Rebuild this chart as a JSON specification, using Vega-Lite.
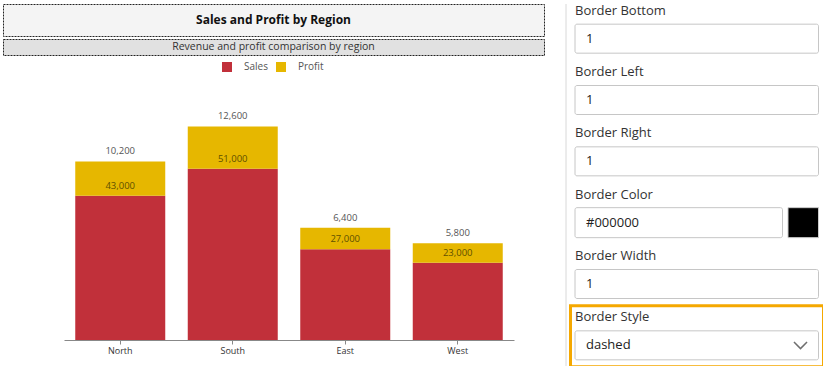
{
  "$schema": "https://vega.github.io/schema/vega-lite/v6.json",
  "padding": {"left": 2, "top": 3, "right": 0, "bottom": 0},
  "background": "white",
  "config": {"font": "Open Sans", "view": {"stroke": null}},
  "datasets": {
    "sales": [
      {"region": "North", "measure": "Sales", "value": 43000},
      {"region": "North", "measure": "Profit", "value": 10200},
      {"region": "South", "measure": "Sales", "value": 51000},
      {"region": "South", "measure": "Profit", "value": 12600},
      {"region": "East", "measure": "Sales", "value": 27000},
      {"region": "East", "measure": "Profit", "value": 6400},
      {"region": "West", "measure": "Sales", "value": 23000},
      {"region": "West", "measure": "Profit", "value": 5800}
    ],
    "form": [
      {"label": "Border Bottom", "value": "1", "kind": "input"},
      {"label": "Border Left", "value": "1", "kind": "input"},
      {"label": "Border Right", "value": "1", "kind": "input"},
      {"label": "Border Color", "value": "#000000", "kind": "color"},
      {"label": "Border Width", "value": "1", "kind": "input"},
      {"label": "Border Style", "value": "dashed", "kind": "select"}
    ]
  },
  "spacing": 12,
  "resolve": {"scale": {"color": "independent"}, "legend": {"color": "independent"}},
  "hconcat": [
    {
      "spacing": 6,
      "resolve": {"scale": {"color": "independent"}, "legend": {"color": "independent"}},
      "vconcat": [
        {
          "spacing": 1,
          "vconcat": [
            {
              "width": 541,
              "height": 32,
              "view": {"fill": "#f4f4f4", "stroke": "#222", "strokeDash": [2, 1], "strokeWidth": 1},
              "data": {"values": [{"t": "Sales and Profit by Region"}]},
              "mark": {"type": "text", "fontWeight": "bold", "fontSize": 12, "color": "#111"},
              "encoding": {"text": {"field": "t"}}
            },
            {
              "width": 541,
              "height": 16,
              "view": {"fill": "#e1e1e1", "stroke": "#222", "strokeDash": [2, 1], "strokeWidth": 1},
              "data": {"values": [{"t": "Revenue and profit comparison by region"}]},
              "mark": {"type": "text", "fontSize": 10.5, "color": "#333"},
              "encoding": {"text": {"field": "t"}}
            }
          ]
        },
        {
          "width": 541,
          "height": 235,
          "data": {"name": "sales"},
          "encoding": {
            "x": {
              "field": "region",
              "type": "nominal",
              "sort": ["North", "South", "East", "West"],
              "scale": {"range": [61, 511], "paddingInner": 0.2, "paddingOuter": 0.1},
              "axis": {"title": null, "labelAngle": 0, "domainColor": "#888", "tickColor": "#888", "tickSize": 4, "labelFontSize": 9, "labelColor": "#333", "labelPadding": 2, "grid": false}
            },
            "y": {"field": "value", "type": "quantitative", "stack": "zero", "scale": {"domain": [0, 70000]}, "axis": null},
            "order": {"field": "measure", "sort": "descending"}
          },
          "layer": [
            {
              "mark": {"type": "bar"},
              "encoding": {
                "color": {
                  "field": "measure",
                  "type": "nominal",
                  "scale": {"domain": ["Sales", "Profit"], "range": ["#c1303a", "#e6b700"]},
                  "legend": {"title": null, "orient": "none", "legendX": 219, "legendY": -43, "direction": "horizontal", "symbolType": "square", "symbolSize": 100, "symbolStrokeWidth": 0, "labelFontSize": 10, "labelColor": "#555", "columnPadding": 8, "labelOffset": 12}
                }
              }
            },
            {
              "mark": {"type": "text", "baseline": "middle", "dy": -10, "fontSize": 9.5},
              "encoding": {
                "detail": {"field": "measure"},
                "text": {"field": "value", "type": "quantitative", "format": ","},
                "color": {"condition": {"test": "datum.measure === 'Sales'", "value": "#5f5000"}, "value": "#555"}
              }
            }
          ]
        }
      ]
    },
    {
      "width": 268,
      "height": 363,
      "data": {"name": "form"},
      "layer": [
        {
          "data": {"values": [{}]},
          "mark": {"type": "rule", "color": "#d8d8d8", "strokeWidth": 1},
          "encoding": {"x": {"value": 9}}
        },
        {
          "transform": [{"filter": "datum.kind === 'select'"}],
          "mark": {"type": "rect", "fillOpacity": 0, "fill": "white", "stroke": "#f5a800", "strokeWidth": 3, "height": 61, "yOffset": -7},
          "encoding": {
            "y": {"field": "label", "type": "nominal", "sort": ["Border Bottom", "Border Left", "Border Right", "Border Color", "Border Width", "Border Style"], "scale": {"range": [2, 370], "paddingInner": 0, "paddingOuter": 0}, "axis": null},
            "x": {"value": 13.5},
            "x2": {"value": 266.5}
          }
        },
        {
          "transform": [{"filter": "datum.kind !== 'color'"}],
          "mark": {"type": "rect", "fill": "white", "stroke": "#c6c6c6", "strokeWidth": 1, "cornerRadius": 2, "height": 29, "yOffset": 2},
          "encoding": {
            "y": {"field": "label", "type": "nominal", "sort": ["Border Bottom", "Border Left", "Border Right", "Border Color", "Border Width", "Border Style"], "scale": {"range": [2, 370], "paddingInner": 0, "paddingOuter": 0}, "axis": null},
            "x": {"value": 18},
            "x2": {"value": 261.5}
          }
        },
        {
          "transform": [{"filter": "datum.kind === 'color'"}],
          "mark": {"type": "rect", "fill": "white", "stroke": "#c6c6c6", "strokeWidth": 1, "cornerRadius": 2, "height": 30, "yOffset": 2},
          "encoding": {
            "y": {"field": "label", "type": "nominal", "sort": ["Border Bottom", "Border Left", "Border Right", "Border Color", "Border Width", "Border Style"], "scale": {"range": [2, 370], "paddingInner": 0, "paddingOuter": 0}, "axis": null},
            "x": {"value": 18},
            "x2": {"value": 225.5}
          }
        },
        {
          "transform": [{"filter": "datum.kind === 'color'"}],
          "mark": {"type": "rect", "stroke": "#cccccc", "strokeWidth": 1, "height": 30, "yOffset": 2},
          "encoding": {
            "y": {"field": "label", "type": "nominal", "sort": ["Border Bottom", "Border Left", "Border Right", "Border Color", "Border Width", "Border Style"], "scale": {"range": [2, 370], "paddingInner": 0, "paddingOuter": 0}, "axis": null},
            "x": {"value": 231},
            "x2": {"value": 261.5},
            "fill": {"field": "value", "type": "nominal", "scale": null}
          }
        },
        {
          "mark": {"type": "text", "align": "left", "baseline": "middle", "dy": -26, "fontSize": 13, "color": "#333"},
          "encoding": {
            "y": {"field": "label", "type": "nominal", "sort": ["Border Bottom", "Border Left", "Border Right", "Border Color", "Border Width", "Border Style"], "scale": {"range": [2, 370], "paddingInner": 0, "paddingOuter": 0}, "axis": null},
            "x": {"value": 18},
            "text": {"field": "label"}
          }
        },
        {
          "mark": {"type": "text", "align": "left", "baseline": "middle", "dy": 2, "fontSize": 13, "color": "#222"},
          "encoding": {
            "y": {"field": "label", "type": "nominal", "sort": ["Border Bottom", "Border Left", "Border Right", "Border Color", "Border Width", "Border Style"], "scale": {"range": [2, 370], "paddingInner": 0, "paddingOuter": 0}, "axis": null},
            "x": {"value": 29},
            "text": {"field": "value"}
          }
        },
        {
          "transform": [{"filter": "datum.kind === 'select'"}],
          "mark": {"type": "point", "shape": "M-1,-0.5L0,0.5L1,-0.5", "filled": false, "stroke": "#333", "strokeWidth": 1.5, "size": 170, "yOffset": 2},
          "encoding": {
            "y": {"field": "label", "type": "nominal", "sort": ["Border Bottom", "Border Left", "Border Right", "Border Color", "Border Width", "Border Style"], "scale": {"range": [2, 370], "paddingInner": 0, "paddingOuter": 0}, "axis": null},
            "x": {"value": 243.5}
          }
        }
      ]
    }
  ]
}
